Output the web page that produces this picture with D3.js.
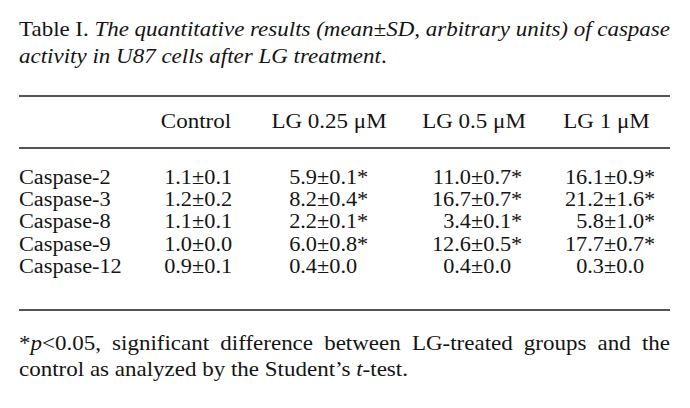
<!DOCTYPE html>
<html>
<head>
<meta charset="utf-8">
<script src="https://cdn.jsdelivr.net/npm/d3@7"></script>
<style>
  html, body { margin: 0; padding: 0; background: #fff; }
  svg { display: block; }
  text { font-family: "Liberation Serif", "Times New Roman", serif; fill: #141414; }
</style>
</head>
<body>
<svg id="chart" width="690" height="408"></svg>
<script>
// ---- data ----
const rowLabels = ["Caspase-2", "Caspase-3", "Caspase-8", "Caspase-9", "Caspase-12"];
const columns = ["Control", "LG 0.25 μM", "LG 0.5 μM", "LG 1 μM"];
const controlMean = [1.1, 1.2, 1.1, 1.0, 0.9];
const controlSD   = [0.1, 0.2, 0.1, 0.0, 0.1];
const lg025Mean   = [5.9, 8.2, 2.2, 6.0, 0.4];
const lg025SD     = [0.1, 0.4, 0.1, 0.8, 0.0];
const lg05Mean    = [11.0, 16.7, 3.4, 12.6, 0.4];
const lg05SD      = [0.7, 0.7, 0.1, 0.5, 0.0];
const lg1Mean     = [16.1, 21.2, 5.8, 17.7, 0.3];
const lg1SD       = [0.9, 1.6, 1.0, 0.7, 0.0];
const significant = [
  [false, true, true, true],
  [false, true, true, true],
  [false, true, true, true],
  [false, true, true, true],
  [false, false, false, false]
];
const titleLines = [
  [{t: "Table I. ", i: false}, {t: "The quantitative results (mean±SD, arbitrary units) of caspase", i: true}],
  [{t: "activity in U87 cells after LG treatment", i: true}, {t: ".", i: false}]
];
const footLines = [
  [{t: "*", i: false}, {t: "p", i: true}, {t: "<0.05, significant difference between LG-treated groups and the", i: false}],
  [{t: "control as analyzed by the Student’s ", i: false}, {t: "t", i: true}, {t: "-test.", i: false}]
];

// ---- layout ----
const svg = d3.select("#chart");
const FS = 20;
const SX_TEXT = 1.15, SX_CELL = 1.115;
const left = 19, right = 670;
const means = [controlMean, lg025Mean, lg05Mean, lg1Mean];
const sds = [controlSD, lg025SD, lg05SD, lg1SD];

const colCenter = d3.scaleOrdinal().domain(columns).range([196, 329, 474, 606.5]);
const colPm = d3.scaleOrdinal().domain(columns).range([192, 317, 471, 604]);
const rowY = d3.scalePoint().domain(rowLabels).range([183.5, 273]);

function txt(g, x, y, anchor, sx) {
  return g.append("text")
    .attr("transform", `translate(${x},${y}) scale(${sx},1)`)
    .attr("text-anchor", anchor || "start")
    .style("font-size", FS + "px");
}

function richLine(parts, y, justify) {
  const t = txt(svg, left, y, "start", SX_TEXT);
  parts.forEach(p => t.append("tspan").style("font-style", p.i ? "italic" : "normal").text(p.t));
  if (justify) {
    const natural = t.node().getComputedTextLength() * SX_TEXT;
    const spaces = parts.map(p => p.t).join("").split(" ").length - 1;
    const ws = (right - left - natural) / spaces / SX_TEXT;
    t.style("word-spacing", ws + "px");
  }
  return t;
}

// title
richLine(titleLines[0], 36, true);
richLine(titleLines[1], 63, false);

// rules
[96, 148, 310].forEach(y => {
  svg.append("line").attr("x1", left).attr("x2", right).attr("y1", y).attr("y2", y)
    .attr("stroke", "#1a1a1a").attr("stroke-width", 1.6);
});

// header
columns.forEach(c => txt(svg, colCenter(c), 128, "middle", SX_TEXT).text(c));

// rows
rowLabels.forEach((r, ri) => {
  const y = rowY(r);
  txt(svg, left, y, "start", SX_CELL).text(r);
  columns.forEach((c, ci) => {
    const x = colPm(c);
    txt(svg, x, y, "end", SX_CELL).text(means[ci][ri].toFixed(1));
    txt(svg, x, y, "start", SX_CELL).text("±" + sds[ci][ri].toFixed(1) + (significant[ri][ci] ? "*" : ""));
  });
});

// footnote
richLine(footLines[0], 350, true);
richLine(footLines[1], 376, false);
</script>
</body>
</html>
